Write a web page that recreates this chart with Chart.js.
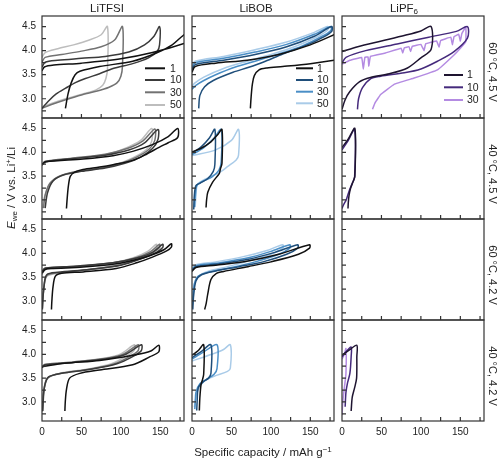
<!DOCTYPE html>
<html><head><meta charset="utf-8">
<script src="https://cdn.jsdelivr.net/npm/chart.js@4.4.0/dist/chart.umd.min.js"></script>
<style>
body{margin:0;background:#fff;}
#stage{position:relative;width:500px;height:461px;overflow:hidden;font-family:"Liberation Sans",Arial,sans-serif;color:#222;}
#stage canvas{position:absolute;left:0;top:0;}
.t{position:absolute;white-space:nowrap;transform:translate(-50%,-50%);line-height:1;}
</style></head><body><div id="stage"></div>
<script>
// ---------- categories / labels ----------
const salts = ['LiTFSI', 'LiBOB', 'LiPF6'];
const conditions = ['60 °C, 4.5 V', '40 °C, 4.5 V', '60 °C, 4.2 V', '40 °C, 4.2 V'];
const cycles = ['1', '10', '30', '50'];
const cyclesPF6 = ['1', '10', '30'];
const xTickValues = [0, 25, 50, 75, 100, 125, 150, 175];
const xTickLabels = ['0', '', '50', '', '100', '', '150', ''];
const yTickValues = [2.75, 3.0, 3.25, 3.5, 3.75, 4.0, 4.25, 4.5];
const yTickLabels = ['', '3.0', '', '3.5', '', '4.0', '', '4.5'];

// ---------- series (specific capacity mAh/g, potential V) ----------
// LiTFSI 60 °C 4.5 V
const tfsi6045_c1 = [[0,3.58],[3,3.66],[15,3.7],[50,3.74],[100,3.83],[140,3.96],[180,4.15],[200,4.3],[205,4.5],[205,4.45],[195,4.45],[180,4.33],[165,4.12],[145,3.95],[115,3.78],[73,3.67],[48,3.57],[42,3.5],[37,3.33],[33,3.1],[29.7,2.8]];
const tfsi6045_c10 = [[0,3.66],[4,3.76],[20,3.8],[50,3.84],[80,3.88],[110,3.97],[130,4.12],[142,4.3],[149,4.5],[149,4.12],[146,3.98],[135,3.85],[115,3.73],[90,3.63],[73,3.52],[55,3.42],[43,3.34],[30,3.22],[18,3.1],[8,2.95],[0,2.8]];
const tfsi6045_c30 = [[0,3.76],[4,3.86],[25,3.92],[50,3.99],[75,4.08],[92,4.22],[102,4.5],[102,3.68],[100,3.47],[95,3.33],[85,3.24],[70,3.16],[50,3.08],[30,2.98],[12,2.88],[0,2.8]];
const tfsi6045_c50 = [[0,3.86],[4,3.96],[20,4.04],[40,4.12],[60,4.22],[75,4.33],[83,4.5],[83,3.63],[81,3.42],[77,3.28],[68,3.18],[52,3.1],[30,3.0],[12,2.9],[0,2.82]];
// LiBOB 60 °C 4.5 V
const bob6045_c1 = [[0,3.55],[4,3.67],[30,3.74],[70,3.8],[110,3.92],[150,4.12],[180,4.33],[195,4.45],[200,4.5],[200,4.3],[195,3.85],[180,3.8],[150,3.73],[115,3.67],[95,3.64],[85,3.6],[79,3.48],[76.5,3.3],[75,3.05],[74,2.8]];
const bob6045_c10 = [[0,3.6],[4,3.71],[40,3.8],[80,3.92],[120,4.08],[155,4.3],[177,4.5],[177,4.4],[165,4.27],[149,4.14],[115,3.93],[90,3.76],[71,3.65],[52,3.55],[27,3.38],[16,3.25],[10,3.07],[8.5,2.8]];
const bob6045_c30 = [[0,3.64],[4,3.75],[40,3.84],[80,3.97],[120,4.13],[155,4.34],[176,4.5],[176,4.42],[165,4.3],[140,4.1],[110,3.93],[80,3.78],[55,3.66],[30,3.5],[15,3.38],[5,3.28],[0,3.2]];
const bob6045_c50 = [[0,3.68],[4,3.78],[40,3.88],[80,4.02],[120,4.18],[155,4.38],[172,4.5],[172,4.43],[160,4.3],[130,4.08],[100,3.92],[70,3.78],[40,3.63],[15,3.45],[3,3.32],[0,3.25]];
// LiPF6 60 °C 4.5 V
const pf66045_c1 = [[0,3.98],[20,4.08],[50,4.2],[80,4.32],[100,4.41],[113,4.5],[113,4.03],[100,3.85],[83,3.64],[60,3.52],[36,3.44],[22,3.35],[10,3.15],[4,2.98],[0,2.78]];
const pf66045_c10 = [[0,3.74],[5,3.86],[30,4.0],[70,4.14],[110,4.28],[145,4.4],[159,4.5],[159,4.26],[142,3.98],[121,3.78],[100,3.62],[79,3.54],[49,3.47],[36.5,3.42],[26,3.23],[21,3.0],[19.6,2.78]];
const pf66045_c30 = [[0,3.72],[10,3.8],[25,3.86],[27,3.62],[29,3.86],[33,3.87],[34,3.68],[36,3.88],[55,3.95],[75,4.05],[77,3.95],[79,4.06],[85,4.08],[87,3.98],[89,4.09],[100,4.13],[104,4.0],[106,4.14],[120,4.2],[123,4.07],[125,4.21],[138,4.28],[140,4.12],[142,4.29],[148,4.34],[150,4.2],[152,4.36],[157,4.5],[157,4.19],[150,4.05],[142,3.91],[121,3.6],[91.5,3.43],[66,3.3],[49,3.09],[42,2.92],[38.6,2.78]];
// LiTFSI 40 °C 4.5 V
const tfsi4045_c1 = [[0,3.75],[5,3.8],[52,3.86],[90,3.93],[115,4.02],[140,4.16],[160,4.33],[172,4.5],[172,4.31],[160,4.2],[149,4.11],[130,3.94],[115,3.83],[90,3.74],[73,3.69],[52,3.64],[42,3.59],[36,3.5],[33.5,3.3],[32,3.05],[31,2.82]];
const tfsi4045_c10 = [[0,3.73],[4,3.8],[40,3.87],[80,3.94],[110,4.05],[130,4.2],[147,4.48],[147,4.27],[140,4.08],[125,3.9],[105,3.77],[80,3.67],[50,3.6],[28,3.53],[14,3.4],[7,3.15],[4,2.83]];
const tfsi4045_c30 = [[0,3.74],[4,3.81],[40,3.88],[80,3.96],[108,4.08],[128,4.24],[143,4.49],[143,4.25],[136,4.07],[120,3.9],[100,3.77],[75,3.67],[45,3.6],[22,3.5],[10,3.35],[4,3.1],[2,2.83]];
const tfsi4045_c50 = [[0,3.73],[4,3.8],[40,3.87],[80,3.95],[105,4.08],[125,4.25],[139,4.5],[139,4.23],[132,4.05],[115,3.88],[95,3.75],[70,3.66],[40,3.58],[20,3.48],[9,3.3],[3,3.05],[1,2.83]];
// LiBOB 40 °C 4.5 V
const bob4045_c1 = [[0,4.01],[11,4.08],[24,4.22],[33,4.38],[38,4.48],[38,3.77],[36,3.65],[34.7,3.56],[26,3.37],[20,3.16],[18.5,3.0],[17.8,2.84]];
const bob4045_c10 = [[0,3.98],[12,4.12],[22,4.3],[29,4.48],[29,3.75],[27,3.6],[20,3.45],[10,3.35],[5,3.3],[3,3.1],[2.2,2.8]];
const bob4045_c30 = [[0,3.95],[15,4.1],[28,4.3],[37,4.48],[37,3.8],[34,3.62],[25,3.48],[12,3.38],[6,3.3],[4,3.05],[3,2.85]];
const bob4045_c50 = [[0,3.93],[30,4.05],[50,4.25],[59,4.48],[59,3.94],[56,3.84],[45,3.7],[37,3.6],[25,3.5],[16,3.43],[7,3.33],[5,3.09],[4,2.85]];
// LiPF6 40 °C 4.5 V
const pf64045_c1 = [[0,4.1],[8,4.28],[16.3,4.5],[16.3,3.5],[14,3.38],[11,3.25],[9,3.1],[8,2.95],[7.6,2.82]];
const pf64045_c10 = [[0,4.05],[8,4.25],[16,4.48],[16,3.48],[13,3.35],[9.5,3.21],[5.3,3.0],[2,2.9],[0,2.82]];
// LiTFSI 60 °C 4.2 V
const tfsi6042_c1 = [[0,3.58],[4,3.66],[12,3.68],[52,3.71],[94,3.78],[120,3.87],[136.5,3.95],[155,4.08],[164,4.2],[164,4.13],[158,4.05],[140,3.92],[120,3.8],[94,3.68],[52,3.61],[25,3.58],[17,3.52],[14,3.3],[12.5,3.0],[12,2.82]];
const tfsi6042_c10 = [[0,3.62],[4,3.69],[40,3.73],[90,3.8],[120,3.9],[140,4.02],[153,4.19],[153,4.12],[145,4.02],[125,3.88],[100,3.75],[60,3.66],[20,3.6],[6,3.55],[2.5,3.3],[1,3.0],[0.5,2.82]];
const tfsi6042_c30 = [[0,3.6],[4,3.68],[40,3.72],[90,3.8],[118,3.9],[137,4.03],[149,4.19],[149,4.12],[141,4.02],[122,3.88],[98,3.75],[60,3.66],[20,3.59],[6,3.53],[2,3.2],[0.5,2.85]];
const tfsi6042_c50 = [[0,3.55],[4,3.66],[40,3.71],[90,3.8],[115,3.9],[134,4.04],[145,4.19],[145,4.12],[137,4.02],[118,3.88],[95,3.76],[60,3.66],[20,3.58],[5,3.5],[1.5,3.15],[0,2.85]];
// LiBOB 60 °C 4.2 V
const bob6042_c1 = [[0,3.62],[5,3.7],[30,3.75],[71,3.84],[110,3.98],[149,4.18],[149,4.11],[135,3.98],[100,3.82],[71,3.72],[40,3.62],[31,3.58],[24,3.45],[20,3.15],[18,2.95],[16,2.82]];
const bob6042_c10 = [[0,3.64],[5,3.72],[30,3.77],[70,3.87],[105,4.02],[134,4.18],[134,4.11],[120,3.98],[90,3.82],[60,3.72],[30,3.63],[12,3.55],[5,3.42],[2,3.1],[1,2.82]];
const bob6042_c30 = [[0,3.66],[5,3.74],[30,3.79],[70,3.9],[100,4.04],[124,4.18],[124,4.11],[110,3.98],[80,3.82],[50,3.7],[25,3.62],[8,3.52],[3,3.35],[1,3.0],[0,2.85]];
const bob6042_c50 = [[0,3.68],[5,3.76],[30,3.82],[65,3.93],[95,4.06],[115,4.18],[115,4.11],[100,3.98],[70,3.83],[45,3.72],[20,3.62],[7,3.5],[2,3.3],[0.5,3.0]];
// LiTFSI 40 °C 4.2 V
const tfsi4042_c1 = [[0,3.74],[29,3.81],[73,3.87],[115,3.98],[138,4.07],[148,4.19],[148,4.05],[137,3.95],[115,3.78],[73,3.67],[48,3.6],[35,3.5],[31,3.26],[29.5,3.0],[29,2.81]];
const tfsi4042_c10 = [[0,3.72],[4,3.78],[40,3.83],[80,3.9],[105,3.99],[126,4.2],[126,4.08],[118,3.98],[95,3.8],[60,3.68],[25,3.6],[8,3.52],[3,3.3],[1.5,3.0],[1,2.81]];
const tfsi4042_c30 = [[0,3.73],[4,3.79],[40,3.84],[80,3.91],[103,4.0],[122,4.2],[122,4.08],[114,3.98],[92,3.8],[58,3.68],[24,3.6],[7,3.5],[2.5,3.25],[1,2.95],[0.5,2.8]];
const tfsi4042_c50 = [[0,3.72],[4,3.78],[40,3.84],[80,3.92],[100,4.01],[117,4.2],[117,4.09],[110,3.99],[88,3.8],[55,3.68],[22,3.6],[6,3.48],[2,3.2],[0.5,2.85]];
// LiBOB 40 °C 4.2 V
const bob4042_c1 = [[0,3.98],[8,4.08],[14.8,4.2],[14.8,3.58],[13,3.45],[11.5,3.37],[10,3.1],[9.3,2.82]];
const bob4042_c10 = [[0,3.93],[12,4.06],[24,4.2],[24,3.6],[21,3.5],[14,3.42],[8,3.3],[6.5,3.0],[6,2.82]];
const bob4042_c30 = [[0,3.9],[15,4.05],[31.7,4.2],[31.7,3.7],[28,3.58],[18,3.47],[10,3.38],[5,3.2],[4,2.95],[3.5,2.85]];
const bob4042_c50 = [[0,3.86],[25,4.0],[40,4.1],[48.6,4.2],[48.6,3.71],[45,3.64],[28,3.54],[15.7,3.44],[7,3.23],[4,3.0],[3,2.89]];
// LiPF6 40 °C 4.2 V
const pf64042_c1 = [[0,3.98],[10,4.1],[18.8,4.19],[18.8,3.95],[18.5,3.5],[16,3.3],[13,3.1],[11.6,2.81]];
const pf64042_c10 = [[0,3.95],[5,4.05],[11.6,4.15],[11.6,3.95],[10,3.6],[7,3.4],[5,3.2],[4,2.9]];
const pf64042_c30 = [[0,3.9],[3,4.0],[5,4.12],[5,3.6],[3,3.3],[1,3.0],[0,2.72]];

// ---------- styles ----------
const grayColors = ['#111111', '#3a3a3a', '#727272', '#bdbdbd'];
const blueColors = ['#111111', '#1f4e7a', '#4a8ec6', '#a9cbe8'];
const purpleColors = ['#1e1430', '#452a7c', '#b48be2'];
const colL = [42, 192, 342], colR = [184, 334, 484];
const rowT = [16, 118, 219, 320], rowB = [118, 219, 320, 421];
const FONT = '"Liberation Sans", Arial, sans-serif';

const panels = [
  {r:0,c:0,s:[tfsi6045_c1,tfsi6045_c10,tfsi6045_c30,tfsi6045_c50],col:grayColors,lab:cycles,leg:{x0:103,x1:123,xt:128,ys:[68.3,80,92.3,105]}},
  {r:0,c:1,s:[bob6045_c1,bob6045_c10,bob6045_c30,bob6045_c50],col:blueColors,lab:cycles,leg:{x0:104,x1:121,xt:125,ys:[68.3,80,91.7,103.3]}},
  {r:0,c:2,s:[pf66045_c1,pf66045_c10,pf66045_c30],col:purpleColors,lab:cyclesPF6,leg:{x0:102,x1:121,xt:125,ys:[75,87.3,100]},tens:[0.3,0.3,0.05]},
  {r:1,c:0,s:[tfsi4045_c1,tfsi4045_c10,tfsi4045_c30,tfsi4045_c50],col:grayColors,lab:cycles},
  {r:1,c:1,s:[bob4045_c1,bob4045_c10,bob4045_c30,bob4045_c50],col:blueColors,lab:cycles},
  {r:1,c:2,s:[pf64045_c1,pf64045_c10],col:purpleColors,lab:cyclesPF6},
  {r:2,c:0,s:[tfsi6042_c1,tfsi6042_c10,tfsi6042_c30,tfsi6042_c50],col:grayColors,lab:cycles},
  {r:2,c:1,s:[bob6042_c1,bob6042_c10,bob6042_c30,bob6042_c50],col:blueColors,lab:cycles},
  {r:2,c:2,s:[],col:purpleColors,lab:cyclesPF6},
  {r:3,c:0,s:[tfsi4042_c1,tfsi4042_c10,tfsi4042_c30,tfsi4042_c50],col:grayColors,lab:cycles},
  {r:3,c:1,s:[bob4042_c1,bob4042_c10,bob4042_c30,bob4042_c50],col:blueColors,lab:cycles},
  {r:3,c:2,s:[pf64042_c1,pf64042_c10,pf64042_c30],col:purpleColors,lab:cyclesPF6}
];

const panelDeco = {
  id: 'panelDeco',
  afterDatasetsDraw(chart, args, opts) {
    const ctx = chart.ctx, a = chart.chartArea, xs = chart.scales.x, ys = chart.scales.y;
    ctx.save();
    ctx.strokeStyle = '#333'; ctx.lineWidth = 1.2;
    ctx.beginPath();
    xTickValues.forEach(v => { const p = xs.getPixelForValue(v); if (p > a.left + 1 && p < a.right - 1) { ctx.moveTo(p, a.bottom); ctx.lineTo(p, a.bottom - 4); } });
    yTickValues.forEach(v => { const p = ys.getPixelForValue(v); if (p > a.top + 1 && p < a.bottom - 1) { ctx.moveTo(a.left, p); ctx.lineTo(a.left + 4, p); } });
    ctx.stroke();
    ctx.strokeRect(a.left, a.top, a.right - a.left, a.bottom - a.top);
    if (opts.leg) {
      const g = opts.leg;
      chart.data.datasets.forEach((d, i) => {
        const y = g.ys[i];
        ctx.strokeStyle = d.borderColor; ctx.lineWidth = 2;
        ctx.beginPath(); ctx.moveTo(a.left + g.x0, y); ctx.lineTo(a.left + g.x1, y); ctx.stroke();
        ctx.fillStyle = '#222'; ctx.font = '10.5px ' + FONT; ctx.textAlign = 'left'; ctx.textBaseline = 'middle';
        ctx.fillText(d.label, a.left + g.xt, y + 0.5);
      });
    }
    ctx.restore();
  }
};

const stage = document.getElementById('stage');
panels.forEach(p => {
  const cv = document.createElement('canvas');
  cv.width = 500; cv.height = 461;
  stage.appendChild(cv);
  const L = colL[p.c], R = colR[p.c], T = rowT[p.r], B = rowB[p.r];
  new Chart(cv, {
    type: 'scatter',
    data: { datasets: p.s.map((arr, i) => ({
      label: p.lab[i],
      data: arr.map(([x, y]) => ({x, y})),
      showLine: true, borderColor: p.col[i], backgroundColor: p.col[i],
      borderWidth: 1.5, pointRadius: 0, fill: false,
      tension: p.tens ? p.tens[i] : 0.3
    })) },
    options: {
      responsive: false, animation: false, events: [],
      layout: { padding: { left: L - 30, right: 500 - R, top: T, bottom: 461 - 20 - B } },
      plugins: { legend: { display: false }, tooltip: { enabled: false }, panelDeco: { leg: p.leg } },
      scales: {
        x: {
          type: 'linear', min: 0, max: 180, bounds: 'data',
          afterBuildTicks: s => { s.ticks = xTickValues.map(v => ({value: v})); },
          afterFit: s => { s.height = 20; },
          grid: { display: false, drawTicks: false }, border: { display: false },
          ticks: { display: p.r === 3, autoSkip: false, maxRotation: 0, padding: 5, color: '#222',
                   font: { size: 10, family: FONT }, callback: (v, i) => xTickLabels[i] }
        },
        y: {
          type: 'linear', min: 2.6, max: 4.72, bounds: 'data',
          afterBuildTicks: s => { s.ticks = yTickValues.map(v => ({value: v})); },
          afterFit: s => { s.width = 30; },
          grid: { display: false, drawTicks: false }, border: { display: false },
          ticks: { display: p.c === 0, autoSkip: false, padding: 6, color: '#222',
                   font: { size: 10, family: FONT }, callback: (v, i) => yTickLabels[i] }
        }
      }
    },
    plugins: [panelDeco]
  });
});

// ---------- text ----------
function addText(html, x, y, extra) {
  const d = document.createElement('div');
  d.className = 't'; d.innerHTML = html;
  d.style.left = x + 'px'; d.style.top = y + 'px';
  Object.assign(d.style, extra || {});
  stage.appendChild(d);
}
const titleX = [107, 256, 404];
addText(salts[0], titleX[0], 9, {fontSize: '11.5px'});
addText(salts[1], titleX[1], 9, {fontSize: '11.5px'});
addText('LiPF<sub style="font-size:8px;vertical-align:-2px">6</sub>', titleX[2], 9, {fontSize: '11.5px'});
conditions.forEach((c, i) => {
  addText(c, 492, (rowT[i] + rowB[i]) / 2 + 5, {fontSize: '11px', transform: 'translate(-50%,-50%) rotate(90deg)'});
});
addText('<i>E</i><sub style="font-size:8px;vertical-align:-2px">we</sub> / V vs. Li<sup style="font-size:8px;vertical-align:4px">+</sup>/Li', 12, 188, {fontSize: '11.5px', transform: 'translate(-50%,-50%) rotate(-90deg)'});
addText('Specific capacity / mAh g<sup style="font-size:8px;vertical-align:4px">−1</sup>', 263, 452, {fontSize: '11.5px'});
</script></body></html>
